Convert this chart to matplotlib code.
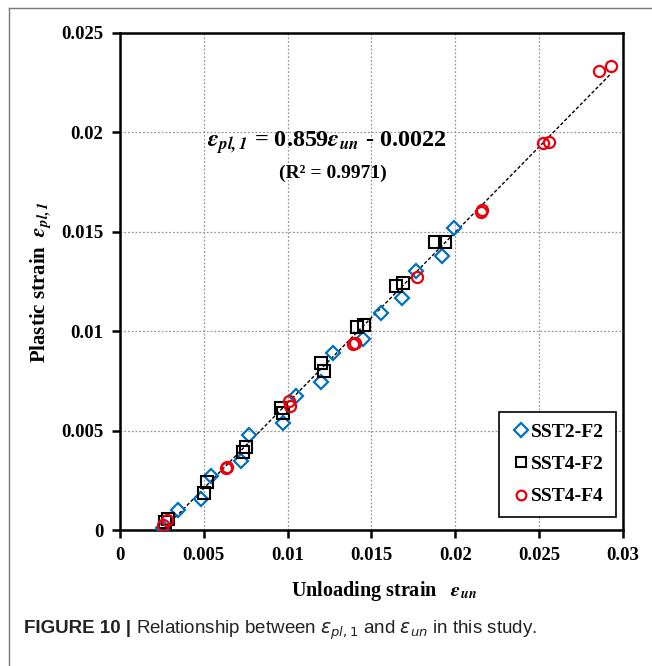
import numpy as np
import matplotlib.pyplot as plt
from matplotlib.lines import Line2D

plt.rcParams['font.family'] = 'Liberation Serif'
plt.rcParams['mathtext.fontset'] = 'stix'

# SST2-F2 (diamonds)
sst2_f2_x = [0.00258, 0.00348, 0.00481, 0.00542, 0.00721, 0.00769, 0.0097, 0.01047,
             0.01196, 0.01272, 0.0145, 0.01556, 0.01685, 0.01764, 0.01923, 0.01993]
sst2_f2_y = [0.00008, 0.0010, 0.00154, 0.00272, 0.00349, 0.00478, 0.00537, 0.00676,
             0.00743, 0.00889, 0.0096, 0.0109, 0.01166, 0.01305, 0.01379, 0.01518]

# SST4-F2 (squares)
sst4_f2_x = [0.00268, 0.00285, 0.00503, 0.00517, 0.00735, 0.00751, 0.00958, 0.0097,
             0.01196, 0.01218, 0.01411, 0.01455, 0.01649, 0.01689, 0.01881, 0.01941]
sst4_f2_y = [0.00040, 0.00055, 0.00188, 0.0024, 0.00394, 0.00419, 0.00612, 0.0059,
             0.00839, 0.0080, 0.01023, 0.01029, 0.01225, 0.01242, 0.01451, 0.01451]

# SST4-F4 (circles)
sst4_f4_x = [0.00258, 0.00278, 0.00632, 0.00636, 0.01009, 0.01013, 0.01387, 0.01401,
             0.01772, 0.02155, 0.02157, 0.02523, 0.02559, 0.02855, 0.02926]
sst4_f4_y = [0.00025, 0.0005, 0.0031, 0.00316, 0.00651, 0.00624, 0.00935, 0.00943,
             0.01272, 0.01602, 0.01612, 0.01946, 0.0195, 0.02307, 0.02332]

slope = 0.859
intercept = -0.0022
fit_x = np.array([0.0026, 0.0293])

xticks = [0, 0.005, 0.01, 0.015, 0.02, 0.025, 0.03]
xticklabels = ['0', '0.005', '0.01', '0.015', '0.02', '0.025', '0.03']
yticks = [0, 0.005, 0.01, 0.015, 0.02, 0.025]
yticklabels = ['0', '0.005', '0.01', '0.015', '0.02', '0.025']

fig = plt.figure(figsize=(6.52, 6.66), dpi=100)
ax = fig.add_axes([0.184, 0.2042, 0.7715, 0.7463])

# outer frame (top and left edges)
fig.add_artist(Line2D([0.0138, 1.0], [0.988, 0.988], color='#777777', lw=1.0))
fig.add_artist(Line2D([0.0138, 0.0138], [0.0, 0.988], color='#777777', lw=1.0))

ax.grid(True, color='#999999', linestyle=(0, (1.5, 1.5)), linewidth=0.9)
ax.set_axisbelow(True)

ax.plot(fit_x, slope * fit_x + intercept, color='black', linestyle=(0, (2.5, 1.5)),
        linewidth=1.0, zorder=2)

ax.plot(sst2_f2_x, sst2_f2_y, linestyle='none', marker='D', markersize=7,
        markerfacecolor='none', markeredgecolor='#0070C0', markeredgewidth=1.6,
        label='SST2-F2', zorder=3)
ax.plot(sst4_f2_x, sst4_f2_y, linestyle='none', marker='s', markersize=8,
        markerfacecolor='none', markeredgecolor='black', markeredgewidth=1.5,
        label='SST4-F2', zorder=3)
ax.plot(sst4_f4_x, sst4_f4_y, linestyle='none', marker='o', markersize=8,
        markerfacecolor='none', markeredgecolor='#E8000B', markeredgewidth=1.6,
        label='SST4-F4', zorder=3)

ax.set_xlim(0, 0.03)
ax.set_ylim(0, 0.025)
ax.set_xticks(xticks)
ax.set_xticklabels(xticklabels)
ax.set_yticks(yticks)
ax.set_yticklabels(yticklabels)
ax.tick_params(direction='out', length=6, width=1.8, labelsize=13.5, pad=6)
for lab in ax.get_xticklabels() + ax.get_yticklabels():
    lab.set_fontweight('bold')
for sp in ax.spines.values():
    sp.set_linewidth(1.8)

ax.set_xlabel(r'Unloading strain   $\mathbfit{\varepsilon_{un}}$', fontsize=14.5,
              fontweight='bold', labelpad=10)
ax.xaxis.set_label_coords(0.525, -0.098)
ax.set_ylabel(r'Plastic strain  $\mathbfit{\varepsilon_{pl,1}}$', fontsize=15,
              fontweight='bold', labelpad=5)

ax.text(0.01235, 0.0195, r'$\mathbfit{\varepsilon_{pl,1}}$ = 0.859$\mathbfit{\varepsilon_{un}}$ - 0.0022',
        fontsize=17.5, fontweight='bold', ha='center', va='center')
ax.text(0.0127, 0.01795, '(R² = 0.9971)', fontsize=14, fontweight='bold',
        ha='center', va='center')

leg = ax.legend(loc='lower right', bbox_to_anchor=(0.986, 0.026), borderaxespad=0,
                fancybox=False, edgecolor='black', framealpha=1, handletextpad=0.05,
                handlelength=1.0, labelspacing=0.75, borderpad=0.6,
                prop={'family': 'Liberation Serif', 'weight': 'bold', 'size': 14})
leg.get_frame().set_linewidth(1.2)
for h in leg.legend_handles:
    h.set_markersize(7)

# caption: bold prefix then plain sans text
cap1 = fig.text(0.037, 0.049, 'FIGURE 10 |', fontsize=13.5, family='Liberation Sans',
                fontweight='bold', color='#222222')
fig.canvas.draw()
bb = cap1.get_window_extent()
x2 = (bb.x1 + 5) / fig.bbox.width
fig.text(x2, 0.049,
         r'Relationship between $\varepsilon_{pl,1}$ and $\varepsilon_{un}$ in this study.',
         fontsize=13.5, family='Liberation Sans', color='#222222', math_fontfamily='dejavusans')

fig.savefig('out.png', dpi=100)
